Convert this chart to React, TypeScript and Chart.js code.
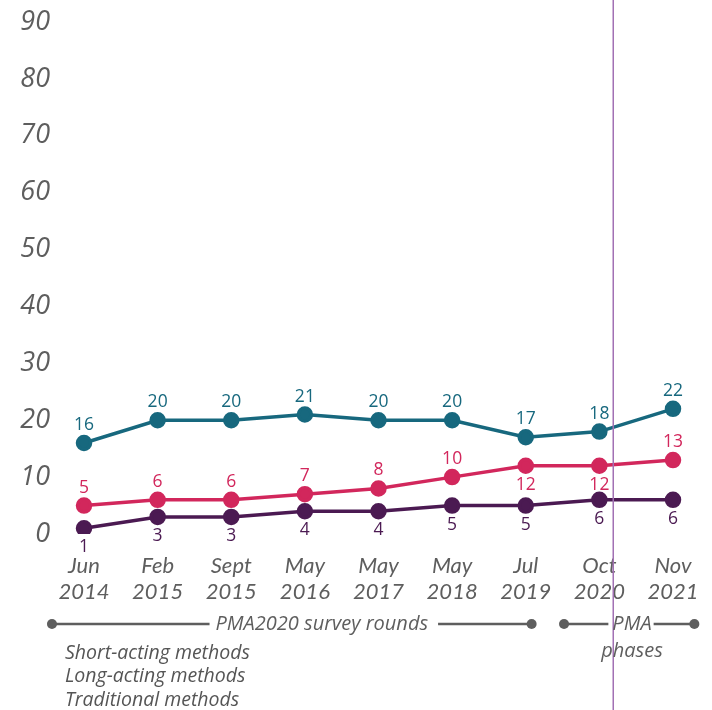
import React, { useEffect, useRef } from "react";
import { Chart, registerables } from "chart.js";

Chart.register(...registerables);

const categories: string[][] = [
  ["Jun", "2014"], ["Feb", "2015"], ["Sept", "2015"], ["May", "2016"], ["May", "2017"],
  ["May", "2018"], ["Jul", "2019"], ["Oct", "2020"], ["Nov", "2021"],
];
const shortActing = [16, 20, 20, 21, 20, 20, 17, 18, 22];
const longActing = [5, 6, 6, 7, 8, 10, 12, 12, 13];
const traditional = [1, 3, 3, 4, 4, 5, 5, 6, 6];
const seriesNames = ["Short-acting methods", "Long-acting methods", "Traditional methods"];
const yTicks = [0, 10, 20, 30, 40, 50, 60, 70, 80, 90];

const TEAL = "#17687e";
const PINK = "#d2275c";
const PURPLE = "#4b1a52";
const GRAY = "#5e5e5e";
const LATO = "Lato, 'Open Sans', sans-serif";
const OPEN = "'Open Sans', sans-serif";

// label placement per series: below the point or above it
const labelBelow: boolean[][] = [
  shortActing.map(() => false),
  longActing.map((_, i) => i === 6 || i === 7),
  traditional.map(() => true),
];

const overlayPlugin = {
  id: "overlay",
  afterDatasetsDraw(chart: any) {
    const ctx = chart.ctx;
    ctx.save();
    ctx.font = `17.5px ${OPEN}`;
    ctx.textAlign = "center";
    ctx.textBaseline = "middle";
    chart.data.datasets.forEach((ds: any, di: number) => {
      const meta = chart.getDatasetMeta(di);
      meta.data.forEach((pt: any, i: number) => {
        const below = labelBelow[di][i];
        ctx.fillStyle = ds.borderColor;
        ctx.fillText(String(ds.data[i]), pt.x, pt.y + (below ? 19 : -18));
      });
    });
    ctx.restore();
  },
  afterDraw(chart: any) {
    const ctx = chart.ctx;
    const xs = chart.scales.x;
    const step = xs.getPixelForValue(1) - xs.getPixelForValue(0);
    const H = chart.height;
    const vx = Math.round(xs.getPixelForValue(7) + 0.18 * step);
    ctx.save();
    ctx.fillStyle = "#a271b4";
    ctx.fillRect(vx - 0.5, 0, 1.5, H);

    const rowY = chart.chartArea.bottom + 90;
    const dot = (x: number, y: number) => {
      ctx.beginPath();
      ctx.arc(x, y, 5, 0, Math.PI * 2);
      ctx.fillStyle = GRAY;
      ctx.fill();
    };
    const seg = (x1: number, x2: number, y: number) => {
      ctx.beginPath();
      ctx.moveTo(x1, y);
      ctx.lineTo(x2, y);
      ctx.strokeStyle = GRAY;
      ctx.lineWidth = 2.5;
      ctx.stroke();
    };
    ctx.font = `italic 20px ${OPEN}`;
    ctx.fillStyle = GRAY;
    ctx.textAlign = "center";
    ctx.textBaseline = "middle";
    const s1 = xs.getPixelForValue(0) - 0.435 * step;
    const e1 = xs.getPixelForValue(6) + 0.08 * step;
    const label1 = "PMA2020 survey rounds";
    const t1c = (s1 + e1) / 2 + 30;
    const w1 = ctx.measureText(label1).width;
    ctx.fillText(label1, t1c, rowY);
    seg(s1, t1c - w1 / 2 - 6, rowY);
    seg(t1c + w1 / 2 + 10, e1, rowY);
    dot(s1, rowY);
    dot(e1, rowY);
    const s2 = xs.getPixelForValue(7) - 0.48 * step;
    const e2 = xs.getPixelForValue(8) + 0.29 * step;
    const t2c = vx + 19;
    ctx.fillStyle = GRAY;
    const w2 = ctx.measureText("PMA").width;
    ctx.fillText("PMA", t2c, rowY);
    ctx.fillText("phases", t2c, rowY + 27);
    seg(s2, t2c - w2 / 2 - 4, rowY);
    seg(t2c + w2 / 2 + 2, e2, rowY);
    dot(s2, rowY);
    dot(e2, rowY);
    ctx.textAlign = "left";
    ctx.font = `italic 19.5px ${OPEN}`;
    ctx.fillStyle = "#555555";
    seriesNames.forEach((n, i) => {
      ctx.fillText(n, 65, rowY + 29 + i * 23.5);
    });
    ctx.restore();
  },
};

export default function App() {
  const ref = useRef<HTMLCanvasElement | null>(null);
  useEffect(() => {
    if (!ref.current) return;
    const mk = (label: string, data: number[], color: string) => ({
      label,
      data,
      borderColor: color,
      backgroundColor: color,
      pointBackgroundColor: color,
      pointBorderColor: color,
      pointRadius: 6.5,
      borderWidth: 3.5,
      tension: 0,
    });
    const chart = new Chart(ref.current, {
      type: "line",
      data: {
        labels: categories,
        datasets: [
          mk(seriesNames[0], shortActing, TEAL),
          mk(seriesNames[1], longActing, PINK),
          mk(seriesNames[2], traditional, PURPLE),
        ],
      },
      options: {
        animation: false,
        responsive: false,
        maintainAspectRatio: false,
        layout: { padding: { top: 22, right: 39, left: 0, bottom: 100 } },
        plugins: { legend: { display: false }, tooltip: { enabled: false } },
        scales: {
          x: {
            offset: false,
            grid: { display: false, drawTicks: false },
            border: { display: false },
            ticks: {
              color: GRAY,
              padding: 19,
              maxRotation: 0,
              autoSkip: false,
              font: { family: LATO, size: 22, style: "italic", lineHeight: 26 / 22 },
            },
            afterFit: (s: any) => {
              s.height = 76;
              s.paddingLeft = 0;
              s.paddingRight = 0;
            },
          },
          y: {
            min: 0,
            max: 90,
            afterBuildTicks: (s: any) => { s.ticks = yTicks.map((v) => ({ value: v })); },
            grid: { display: false, drawTicks: false },
            border: { display: false },
            ticks: {
              color: GRAY,
              padding: 34,
              font: { family: OPEN, size: 27, style: "italic" },
            },
            afterFit: (s: any) => {
              s.width = 84;
              s.paddingTop = 0;
              s.paddingBottom = 0;
            },
          },
        },
      },
      plugins: [overlayPlugin],
    } as any);
    return () => chart.destroy();
  }, []);
  return (
    <div style={{ position: "absolute", left: 0, top: 0, width: 712, height: 710 }}>
      <canvas ref={ref} width={712} height={710} style={{ width: 712, height: 710, display: "block" }} />
    </div>
  );
}
